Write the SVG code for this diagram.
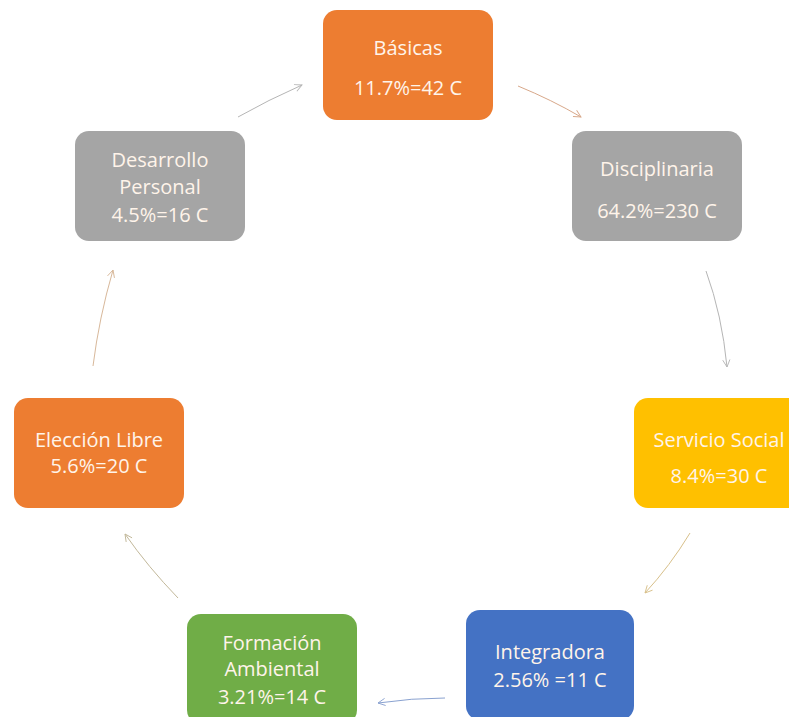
<svg xmlns="http://www.w3.org/2000/svg" width="789" height="717" viewBox="0 0 789 717">
<style>
.box{stroke:none}
.t{font-family:"Open Sans","Liberation Sans",sans-serif;font-size:20px;fill:#fff4ea;text-anchor:middle}
.c{fill:none;stroke-width:1}
</style>
<defs>
<marker id="ah" viewBox="0 0 10 10" refX="9" refY="5" markerWidth="9" markerHeight="9" orient="auto" markerUnits="userSpaceOnUse">
<path d="M1,1 L9,5 L1,9" fill="none" stroke="context-stroke" stroke-width="1"/>
</marker>
</defs>
<rect width="789" height="717" fill="#ffffff"/>
<g id="connectors">
<path class="c" stroke="#b5b5b5" d="M238,117 Q268,100 302,85" marker-end="url(#ah)"/>
<path class="c" stroke="#d8a88a" d="M518,86 Q552,100 581,117" marker-end="url(#ah)"/>
<path class="c" stroke="#b5b5b5" d="M706,271 Q722,315 727,367" marker-end="url(#ah)"/>
<path class="c" stroke="#d8c08a" d="M690,533 Q670,566 645,593" marker-end="url(#ah)"/>
<path class="c" stroke="#8aa2d0" d="M445,698 Q412,698 378,703" marker-end="url(#ah)"/>
<path class="c" stroke="#c2b89a" d="M178,598 Q148,567 125,534" marker-end="url(#ah)"/>
<path class="c" stroke="#d8b89a" d="M93,366 Q99,318 113,270" marker-end="url(#ah)"/>
</g>
<g id="basicas">
<rect class="box" x="323" y="10" width="170" height="110" rx="14" fill="#ed7d31"/>
<text class="t" x="408" y="55">Básicas</text>
<text class="t" x="408" y="95">11.7%=42 C</text>
</g>
<g id="disciplinaria">
<rect class="box" x="572" y="131" width="170" height="110" rx="14" fill="#a5a5a5"/>
<text class="t" x="657" y="176">Disciplinaria</text>
<text class="t" x="657" y="218">64.2%=230 C</text>
</g>
<g id="desarrollo">
<rect class="box" x="75" y="131" width="170" height="110" rx="14" fill="#a5a5a5"/>
<text class="t" x="160" y="167">Desarrollo</text>
<text class="t" x="160" y="194">Personal</text>
<text class="t" x="160" y="222">4.5%=16 C</text>
</g>
<g id="servicio">
<rect class="box" x="634" y="398" width="170" height="110" rx="14" fill="#ffc000"/>
<text class="t" x="719" y="447">Servicio Social</text>
<text class="t" x="719" y="483">8.4%=30 C</text>
</g>
<g id="eleccion">
<rect class="box" x="14" y="398" width="170" height="110" rx="14" fill="#ed7d31"/>
<text class="t" x="99" y="447">Elección Libre</text>
<text class="t" x="99" y="473">5.6%=20 C</text>
</g>
<g id="formacion">
<rect class="box" x="187" y="614" width="170" height="110" rx="14" fill="#70ad47"/>
<text class="t" x="272" y="650">Formación</text>
<text class="t" x="272" y="676">Ambiental</text>
<text class="t" x="272" y="704">3.21%=14 C</text>
</g>
<g id="integradora">
<rect class="box" x="466" y="610" width="168" height="110" rx="14" fill="#4472c4"/>
<text class="t" x="550" y="659">Integradora</text>
<text class="t" x="550" y="687">2.56% =11 C</text>
</g>
</svg>
